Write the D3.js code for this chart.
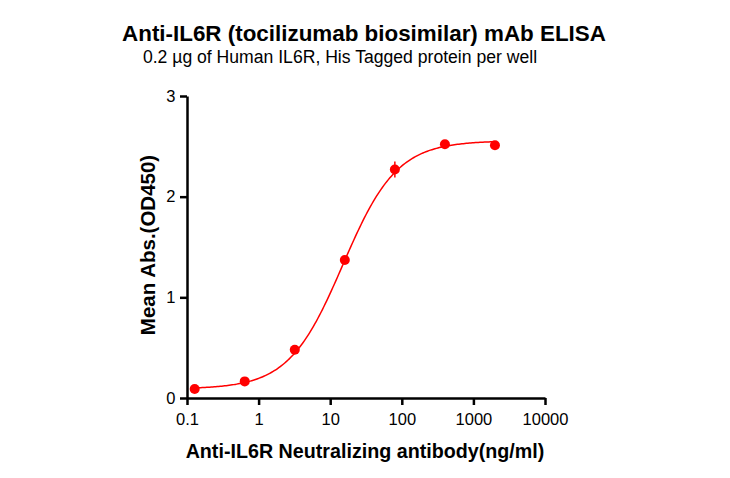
<!DOCTYPE html>
<html>
<head>
<meta charset="utf-8">
<script src="https://cdn.jsdelivr.net/npm/d3@7"></script>
<style>
  body { margin: 0; background: #fff; }
  text { font-family: "Liberation Sans", Arial, sans-serif; }
</style>
</head>
<body>
<div id="chart"></div>
<script>
// concentrations (ng/ml) and mean OD450
var conc = [0.128, 0.64, 3.2, 16, 80, 400, 2000];
var od = [0.09, 0.165, 0.48, 1.37, 2.27, 2.52, 2.51];
var err = [0.01, 0.01, 0.015, 0.02, 0.08, 0.03, 0.02];
// 4PL fit params
var fitBottom = 0.09, fitTop = 2.555, fitEC50 = 15, fitHill = 1.15;
var xTicks = [0.1, 1, 10, 100, 1000, 10000];
var yTicks = [0, 1, 2, 3];

var w = 730, h = 478;
var svg = d3.select("#chart").append("svg")
  .attr("width", w)
  .attr("height", h);

var x = d3.scaleLog().domain([0.1, 10000]).range([187, 545]);
var y = d3.scaleLinear().domain([0, 3]).range([398, 96]);

svg.append("text")
  .attr("x", 364).attr("y", 41)
  .attr("text-anchor", "middle")
  .attr("font-size", 22.4).attr("font-weight", "bold")
  .text("Anti-IL6R (tocilizumab biosimilar) mAb ELISA");
svg.append("text")
  .attr("x", 340).attr("y", 63)
  .attr("text-anchor", "middle")
  .attr("font-size", 17.6)
  .text("0.2 \u00b5g of Human IL6R, His Tagged protein per well");

var xAxis = svg.append("g")
  .attr("transform", "translate(0,398)")
  .call(d3.axisBottom(x).tickValues(xTicks).tickFormat(d3.format("~g")).tickSize(7).tickSizeOuter(0));
var yAxis = svg.append("g")
  .attr("transform", "translate(187,0)")
  .call(d3.axisLeft(y).tickValues(yTicks).tickFormat(d3.format("d")).tickSize(7).tickSizeOuter(0));

[xAxis, yAxis].forEach(function(a) {
  a.select(".domain").attr("stroke", "#000").attr("stroke-width", 2.5);
  a.selectAll(".tick line").attr("stroke", "#000").attr("stroke-width", 2.5);
  a.selectAll(".tick text").attr("font-size", 16.5).attr("fill", "#000")
    .style("font-family", "Liberation Sans, Arial, sans-serif");
});
xAxis.selectAll(".tick text").attr("dy", "1.0em");
yAxis.selectAll(".tick text").attr("dx", "-0.1em");

svg.append("text")
  .attr("x", 365).attr("y", 458)
  .attr("text-anchor", "middle")
  .attr("font-size", 19.7).attr("font-weight", "bold")
  .text("Anti-IL6R Neutralizing antibody(ng/ml)");
svg.append("text")
  .attr("transform", "translate(155,245) rotate(-90)")
  .attr("text-anchor", "middle")
  .attr("font-size", 20.5).attr("font-weight", "bold")
  .text("Mean Abs.(OD450)");

// fitted curve
var fit = function(c) {
  return fitBottom + (fitTop - fitBottom) / (1 + Math.pow(fitEC50 / c, fitHill));
};
var curvePts = [];
var lo = Math.log10(conc[0]), hi = Math.log10(conc[conc.length - 1]);
for (var i = 0; i <= 200; i++) {
  var c = Math.pow(10, lo + (hi - lo) * i / 200);
  curvePts.push([c, fit(c)]);
}
svg.append("path")
  .datum(curvePts)
  .attr("fill", "none")
  .attr("stroke", "#ff0000")
  .attr("stroke-width", 1.5)
  .attr("d", d3.line()
    .x(function(d) { return x(d[0]); })
    .y(function(d) { return y(d[1]); }));

// error bars
svg.selectAll("line.err")
  .data(conc)
  .enter()
  .append("line")
  .attr("class", "err")
  .attr("x1", function(d) { return x(d); })
  .attr("x2", function(d) { return x(d); })
  .attr("y1", function(d, i) { return y(od[i] - err[i]); })
  .attr("y2", function(d, i) { return y(od[i] + err[i]); })
  .attr("stroke", "#ff0000")
  .attr("stroke-width", 1.5);

svg.selectAll("circle")
  .data(conc)
  .enter()
  .append("circle")
  .attr("cx", function(d) { return x(d); })
  .attr("cy", function(d, i) { return y(od[i]); })
  .attr("r", 5)
  .attr("fill", "#ff0000");
</script>
</body>
</html>
